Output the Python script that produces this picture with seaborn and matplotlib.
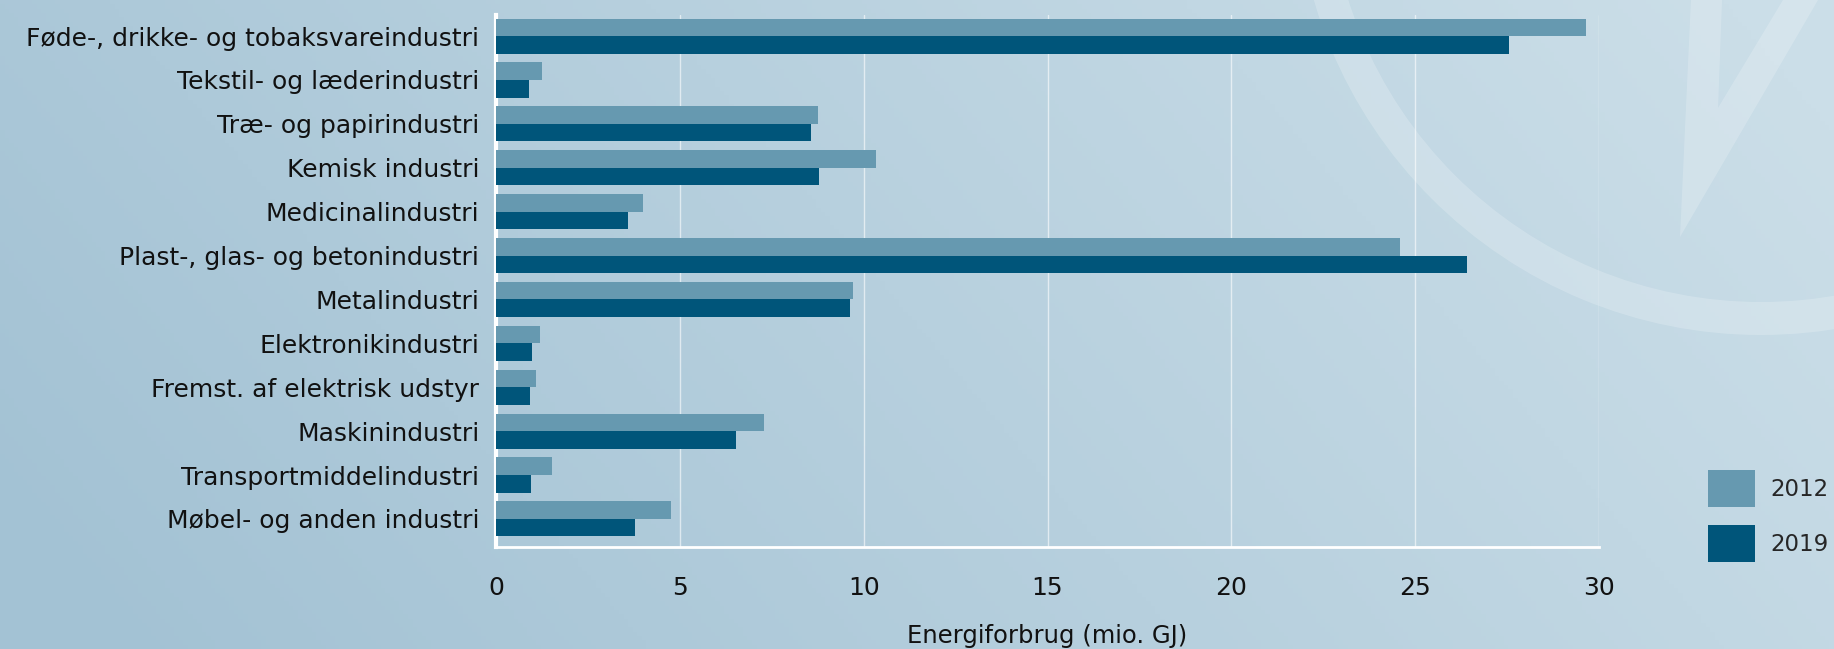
import numpy as np
import pandas as pd
import seaborn as sns
import matplotlib.pyplot as plt
from matplotlib.patches import Wedge, Polygon

# data
kategorier = [
    "Føde-, drikke- og tobaksvareindustri",
    "Tekstil- og læderindustri",
    "Træ- og papirindustri",
    "Kemisk industri",
    "Medicinalindustri",
    "Plast-, glas- og betonindustri",
    "Metalindustri",
    "Elektronikindustri",
    "Fremst. af elektrisk udstyr",
    "Maskinindustri",
    "Transportmiddelindustri",
    "Møbel- og anden industri",
]
vaerdier_2012 = [29.65, 1.24, 8.75, 10.34, 4.0, 24.6, 9.7, 1.21, 1.08, 7.29, 1.53, 4.77]
vaerdier_2019 = [27.55, 0.89, 8.56, 8.78, 3.6, 26.4, 9.64, 0.99, 0.92, 6.52, 0.95, 3.79]
aar = ["2012", "2019"]
xticks = [0, 5, 10, 15, 20, 25, 30]

farver = ["#6699b0", "#00557a"]

df = pd.DataFrame({
    "kategori": kategorier * 2,
    "vaerdi": vaerdier_2012 + vaerdier_2019,
    "aar": [aar[0]] * len(kategorier) + [aar[1]] * len(kategorier),
})

sns.set_style("white")
plt.rcParams["font.family"] = ["DejaVu Sans"]

W, H = 1834, 649
fig = plt.figure(figsize=(W / 100, H / 100), dpi=100)

# baggrund: gradient + logo-dekoration
bg = fig.add_axes([0, 0, 1, 1], zorder=-10)
xx, yy = np.meshgrid(np.linspace(0, 1, 400), np.linspace(0, 1, 150))
t = np.clip(0.85 * xx + 0.25 * (1 - yy) - 0.05, 0, 1)
c0 = np.array([163, 194, 212]) / 255
c1 = np.array([203, 222, 232]) / 255
img = c0[None, None, :] * (1 - t[..., None]) + c1[None, None, :] * t[..., None]
bg.imshow(img, extent=[0, W, H, 0], aspect="auto")
bg.add_patch(Wedge((1761, -131), 466, 0, 360, width=33, facecolor="white", alpha=0.2, lw=0))
bg.add_patch(Polygon([(1691, 0), (1722, 0), (1718, 108), (1783, 0), (1818, 0), (1680, 237)],
                     closed=True, facecolor="white", alpha=0.2, lw=0))
bg.set_xlim(0, W)
bg.set_ylim(H, 0)
bg.axis("off")

ax = fig.add_axes([496 / W, 1 - 547 / H, (1599 - 496) / W, (547 - 15) / H])
ax.set_facecolor("none")
sns.barplot(data=df, x="vaerdi", y="kategori", hue="aar", palette=farver,
            saturation=1, width=0.8, linewidth=0, ax=ax, zorder=3)

ax.set_xlim(0, 30)
ax.set_ylim(11.64, -0.48)
ax.set_xticks(xticks)
ax.set_xticklabels([str(v) for v in xticks])
ax.grid(axis="x", color="white", lw=1.0, alpha=0.6, zorder=0)
ax.grid(axis="y", visible=False)
for s in ["top", "right"]:
    ax.spines[s].set_visible(False)
ax.spines["left"].set_color("white")
ax.spines["left"].set_linewidth(3)
ax.spines["bottom"].set_color("white")
ax.spines["bottom"].set_linewidth(2)
ax.tick_params(axis="x", length=0, pad=21, labelsize=18, labelcolor="#111111")
ax.tick_params(axis="y", length=0, pad=12, labelsize=18, labelcolor="#111111")
ax.set_ylabel("")
ax.set_xlabel("Energiforbrug (mio. GJ)", fontsize=17.5, color="#111111", labelpad=17)

handles, labels = ax.get_legend_handles_labels()
ax.get_legend().remove()
fig.legend(handles, labels, loc="lower right", bbox_to_anchor=(0.997, 0.134),
           frameon=False, fontsize=16.5, handlelength=2.05, handleheight=2.1,
           labelspacing=0.8, handletextpad=0.65, borderpad=0, borderaxespad=0)

fig.savefig("out.png", dpi=100)
